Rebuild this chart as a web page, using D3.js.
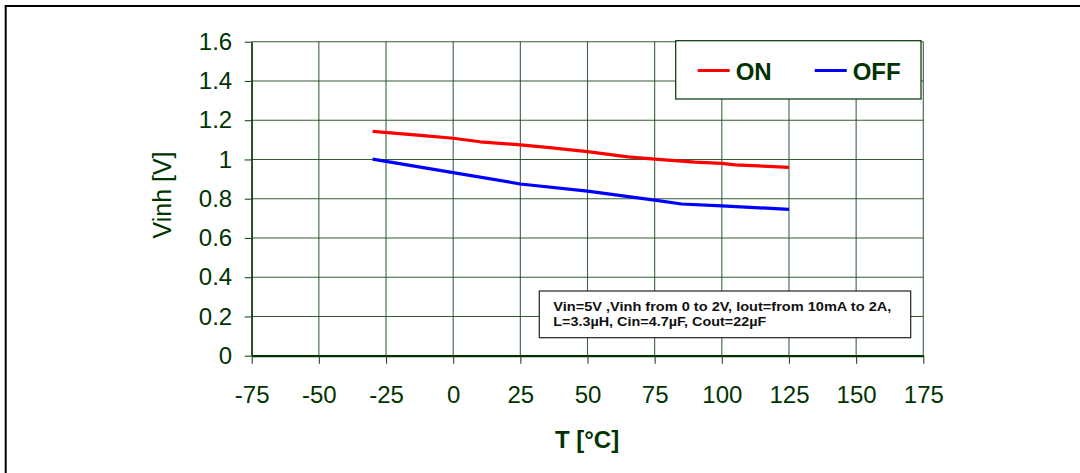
<!DOCTYPE html>
<html>
<head>
<meta charset="utf-8">
<script src="https://cdn.jsdelivr.net/npm/d3@7/dist/d3.min.js"></script>
<style>
  html, body { margin: 0; padding: 0; background: #fff; }
  svg { display: block; }
</style>
</head>
<body>
<svg id="chart" width="1080" height="473"></svg>
<script>
// ---- data ----
const onT    = [-30, -10, 0, 10, 25, 35, 50, 65, 75, 90, 100, 105, 125];
const onV    = [1.143, 1.12, 1.108, 1.09, 1.074, 1.062, 1.04, 1.013, 1.002, 0.986, 0.98, 0.972, 0.96];
const offT   = [-30, 0, 25, 50, 75, 85, 100, 125];
const offV   = [1.002, 0.933, 0.875, 0.839, 0.793, 0.773, 0.763, 0.746];
const xTicks = [-75, -50, -25, 0, 25, 50, 75, 100, 125, 150, 175];
const yTicks = [0, 0.2, 0.4, 0.6, 0.8, 1, 1.2, 1.4, 1.6];
const yTickLabels = ["0", "0.2", "0.4", "0.6", "0.8", "1", "1.2", "1.4", "1.6"];
const seriesNames = ["ON", "OFF"];
const seriesColors = ["#ff0000", "#0000ff"];
const noteLines = ["Vin=5V ,Vinh from 0 to 2V, Iout=from 10mA to 2A,", "L=3.3\u00b5H, Cin=4.7\u00b5F, Cout=22\u00b5F"];
const xTitle = "T [\u00b0C]";
const yTitle = "Vinh [V]";

// ---- layout ----
const FONT = "'Liberation Sans', Arial, Helvetica, sans-serif";
const TXT = "#003300";
const GRID = "#1e4a1e";
const pLeft = 251.7, pRight = 923.3, pTop = 41.7, pBottom = 355.7;

const svg = d3.select("#chart");

// outer frame
svg.append("rect").attr("x", 5.7).attr("y", 6).attr("width", 1200).attr("height", 600)
  .attr("fill", "none").attr("stroke", "#000").attr("stroke-width", 2);

const x = d3.scaleLinear().domain([-75, 175]).range([pLeft, pRight]);
const y = d3.scaleLinear().domain([0, 1.6]).range([pBottom, pTop]);

// grid
const g = svg.append("g");
g.selectAll("line.v").data(xTicks).join("line")
  .attr("x1", d => x(d)).attr("x2", d => x(d))
  .attr("y1", y(1.6)).attr("y2", y(0))
  .attr("stroke", GRID).attr("stroke-width", 1.1).attr("opacity", 0.85);
g.selectAll("line.h").data(yTicks.filter(d => d > 0)).join("line")
  .attr("x1", x(-75)).attr("x2", x(175))
  .attr("y1", d => y(d)).attr("y2", d => y(d))
  .attr("stroke", GRID).attr("stroke-width", 1.1).attr("opacity", 0.9);

// x axis
const xAxis = svg.append("g").attr("transform", `translate(0,${pBottom})`)
  .call(d3.axisBottom(x).tickValues(xTicks).tickFormat(d3.format("d"))
    .tickSize(8).tickSizeOuter(0).tickPadding(22));
xAxis.select(".domain").attr("stroke", TXT).attr("stroke-width", 2.2);
xAxis.selectAll(".tick line").attr("stroke", GRID).attr("stroke-width", 1.1);
xAxis.selectAll("text").attr("fill", TXT).style("font-family", FONT).style("font-size", "24px")
  .text(d => d < 0 ? "-" + Math.abs(d) : d);

// y axis
const yAxis = svg.append("g").attr("transform", `translate(${pLeft},0)`)
  .call(d3.axisLeft(y).tickValues(yTicks).tickFormat((d, i) => yTickLabels[i])
    .tickSize(7).tickSizeOuter(0).tickPadding(12.5));
yAxis.select(".domain").attr("stroke", TXT).attr("stroke-width", 1.3);
yAxis.selectAll(".tick line").attr("stroke", GRID).attr("stroke-width", 1.1);
yAxis.selectAll("text").attr("fill", TXT).style("font-family", FONT).style("font-size", "24px");

// axis titles
svg.append("text").attr("x", 587).attr("y", 448).attr("text-anchor", "middle")
  .attr("fill", TXT).style("font-family", FONT).style("font-size", "24px").style("font-weight", "bold")
  .text(xTitle);
svg.append("text").attr("transform", "translate(171,195) rotate(-90)").attr("text-anchor", "middle")
  .attr("fill", TXT).style("font-family", FONT).style("font-size", "25px")
  .text(yTitle);

// lines
const line = d3.line().x(d => x(d[0])).y(d => y(d[1]));
const series = [onT.map((t, i) => [t, onV[i]]), offT.map((t, i) => [t, offV[i]])];
svg.selectAll("path.series").data(series).join("path")
  .attr("fill", "none").attr("stroke", (d, i) => seriesColors[i]).attr("stroke-width", 3.2)
  .attr("stroke-linejoin", "round")
  .attr("d", line);

// legend
const lg = svg.append("g");
lg.append("rect").attr("x", 675.7).attr("y", 40.7).attr("width", 245.3).attr("height", 58.3)
  .attr("fill", "#fff").attr("stroke", TXT).attr("stroke-width", 1.2);
const legX = [697.7, 814.7];
seriesNames.forEach((n, i) => {
  lg.append("line").attr("x1", legX[i]).attr("x2", legX[i] + 32).attr("y1", 70.5).attr("y2", 70.5)
    .attr("stroke", seriesColors[i]).attr("stroke-width", 3);
  lg.append("text").attr("x", legX[i] + 38).attr("y", 79.5).attr("fill", TXT)
    .style("font-family", FONT).style("font-size", "24px").style("font-weight", "bold").text(n);
});

// note box
const noteWidths = [338, 213];
const nb = svg.append("g");
nb.append("rect").attr("x", 539.3).attr("y", 291).attr("width", 371.4).attr("height", 46.7)
  .attr("fill", "#fff").attr("stroke", "#222").attr("stroke-width", 1.2);
noteLines.forEach((t, i) => {
  nb.append("text").attr("x", 553.3).attr("y", 311 + i * 14.7).attr("fill", "#111")
    .attr("textLength", noteWidths[i]).attr("lengthAdjust", "spacingAndGlyphs")
    .style("font-family", FONT).style("font-size", "13.5px").style("font-weight", "bold").text(t);
});
</script>
</body>
</html>
